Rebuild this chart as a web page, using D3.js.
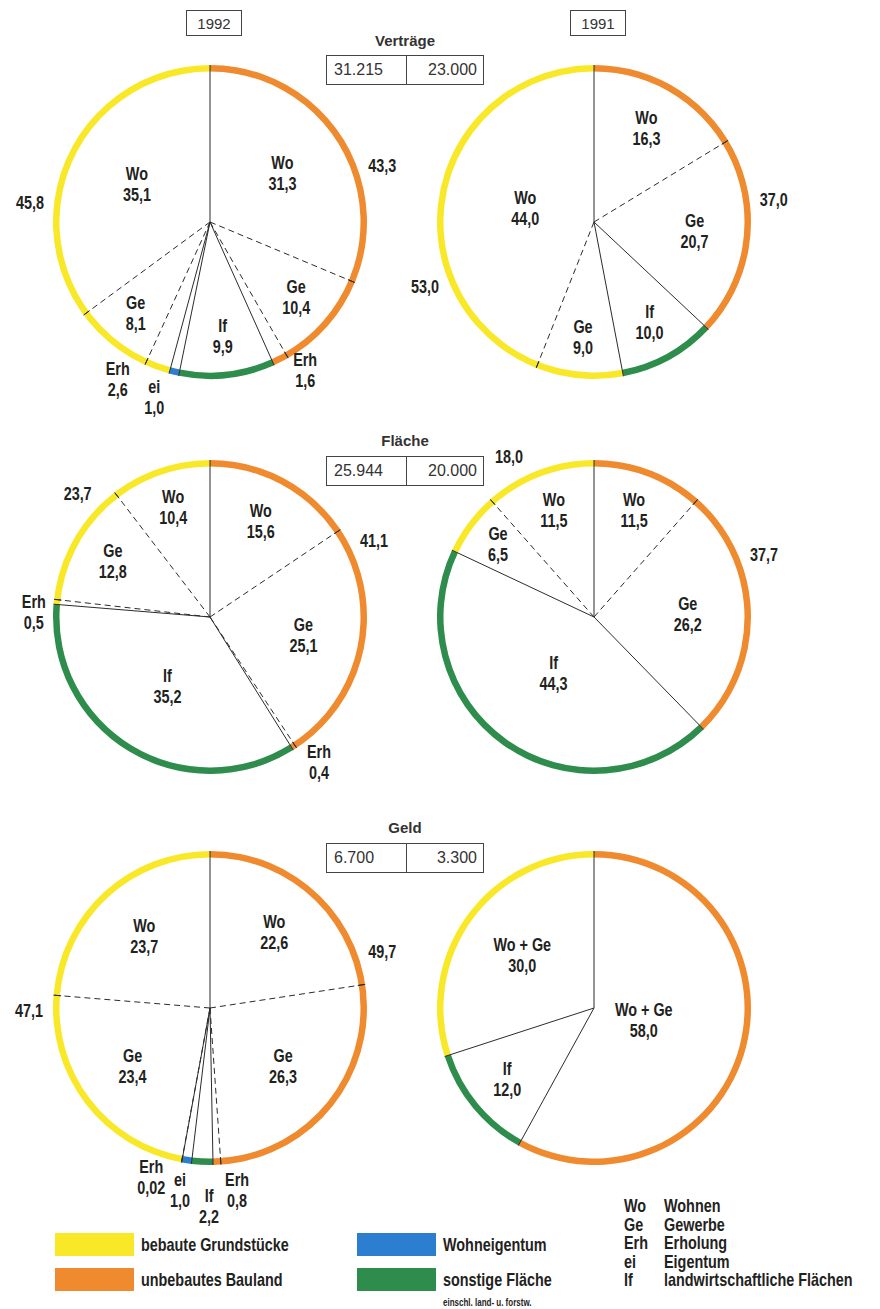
<!DOCTYPE html>
<html>
<head>
<meta charset="utf-8">
<script src="https://cdn.jsdelivr.net/npm/d3@7"></script>
<style>
  body { margin: 0; background: #fff; }
  svg { display: block; }
  .hd { font-family: "Liberation Sans", Arial, sans-serif; fill: #333; }
</style>
</head>
<body>
<svg id="chart" width="880" height="1309"></svg>
<script>
const years = ["1992", "1991"];
const groups = ["Verträge", "Fläche", "Geld"];
const groupTotals = [["31.215", "23.000"], ["25.944", "20.000"], ["6.700", "3.300"]];

const categories = ["bebaut", "unbebaut", "eigentum", "sonstig"];
const categoryNames = ["bebaute Grundstücke", "unbebautes Bauland", "Wohneigentum", "sonstige Fläche"];
const categoryColors = ["#f9e827", "#ef8a2e", "#2c7fd0", "#2e8d4c"];

const abbrCodes = ["Wo", "Ge", "Erh", "ei", "If"];
const abbrNames = ["Wohnen", "Gewerbe", "Erholung", "Eigentum", "landwirtschaftliche Flächen"];

// slices clockwise from 12 o'clock: [rim category, use, percent]
const vertraege1992 = [["unbebaut", "Wo", 31.3], ["unbebaut", "Ge", 10.4], ["unbebaut", "Erh", 1.6], ["sonstig", "If", 9.9], ["eigentum", "ei", 1.0], ["bebaut", "Erh", 2.6], ["bebaut", "Ge", 8.1], ["bebaut", "Wo", 35.1]];
const vertraege1991 = [["unbebaut", "Wo", 16.3], ["unbebaut", "Ge", 20.7], ["sonstig", "If", 10.0], ["bebaut", "Ge", 9.0], ["bebaut", "Wo", 44.0]];
const flaeche1992 = [["unbebaut", "Wo", 15.6], ["unbebaut", "Ge", 25.1], ["unbebaut", "Erh", 0.4], ["sonstig", "If", 35.2], ["bebaut", "Erh", 0.5], ["bebaut", "Ge", 12.8], ["bebaut", "Wo", 10.4]];
const flaeche1991 = [["unbebaut", "Wo", 11.5], ["unbebaut", "Ge", 26.2], ["sonstig", "If", 44.3], ["bebaut", "Ge", 6.5], ["bebaut", "Wo", 11.5]];
const geld1992 = [["unbebaut", "Wo", 22.6], ["unbebaut", "Ge", 26.3], ["unbebaut", "Erh", 0.8], ["sonstig", "If", 2.2], ["eigentum", "ei", 1.0], ["bebaut", "Erh", 0.02], ["bebaut", "Ge", 23.4], ["bebaut", "Wo", 23.7]];
const geld1991 = [["unbebaut", "Wo + Ge", 58.0], ["sonstig", "If", 12.0], ["bebaut", "Wo + Ge", 30.0]];

const pies = [[vertraege1992, vertraege1991], [flaeche1992, flaeche1991], [geld1992, geld1991]];

// layout
const R = 157, RIM = 6.5;
const colX = [210, 594];
const rowY = [222, 617, 1008];
const titleY = [41, 441, 828];
const boxTop = [55, 456, 843];
// where the rim totals sit (degrees clockwise from top)
const rimLabelAngle = [
  [{ unbebaut: 72, bebaut: 276 }, { unbebaut: 83, bebaut: 249 }],
  [{ unbebaut: 65, bebaut: 313 }, { unbebaut: 70, bebaut: 332 }],
  [{ unbebaut: 72, bebaut: 269 }, {}]
];
// hand nudges for the small labels outside the ring, "row-col-slice"
const nudge = {
  "0-0-2": [13, -12], "0-0-4": [-14, 0], "0-0-5": [-31, -12],
  "1-0-2": [11, -6], "1-0-4": [4, 14],
  "2-0-2": [19, 2], "2-0-3": [8, 18], "2-0-4": [-3, 4], "2-0-5": [-26, -8]
};

function hasFont(name) {
  const c = document.createElement("canvas").getContext("2d");
  c.font = "bold 40px monospace";
  const a = c.measureText("Wohnen Grundstücke").width;
  c.font = `bold 40px "${name}", monospace`;
  const b = c.measureText("Wohnen Grundstücke").width;
  return a !== b;
}
const narrow = hasFont("Liberation Sans Narrow");
const condFont = narrow ? '"Liberation Sans Narrow", sans-serif' : '"Liberation Sans", Arial, sans-serif';
const sx = narrow ? 1 : 0.8;

const svg = d3.select("#chart");
const color = d3.scaleOrdinal(categories, categoryColors);
const fmt = (v) => (v < 0.1 ? v.toFixed(2) : v.toFixed(1)).replace(".", ",");
const rimArc = d3.arc().innerRadius(R - RIM).outerRadius(R);
const polar = (a, r) => [r * Math.sin(a), -r * Math.cos(a)];

function condText(sel, x, y, str, size, anchor) {
  return sel.append("text")
    .attr("transform", `translate(${x},${y}) scale(${sx},1)`)
    .attr("text-anchor", anchor || "middle")
    .style("font-family", condFont)
    .style("font-weight", "bold")
    .style("font-size", size + "px")
    .attr("fill", "#1f231d")
    .text(str);
}

// year boxes
years.forEach((yr, ci) => {
  const cx = colX[ci] + 4;
  svg.append("rect")
    .attr("x", cx - 27.5).attr("y", 10.5)
    .attr("width", 55).attr("height", 25)
    .attr("fill", "none").attr("stroke", "#444").attr("stroke-width", 1);
  svg.append("text")
    .attr("class", "hd")
    .attr("x", cx).attr("y", 28.5)
    .attr("text-anchor", "middle")
    .style("font-size", "15px")
    .text(yr);
});

// group titles with totals
groups.forEach((name, ri) => {
  svg.append("text")
    .attr("class", "hd")
    .attr("x", 405).attr("y", titleY[ri] + 5)
    .attr("text-anchor", "middle")
    .style("font-size", "15px").style("font-weight", "bold")
    .text(name);
  svg.append("rect")
    .attr("x", 326.5).attr("y", boxTop[ri] + 0.5)
    .attr("width", 157).attr("height", 29)
    .attr("fill", "none").attr("stroke", "#444").attr("stroke-width", 1);
  svg.append("line")
    .attr("x1", 406.5).attr("x2", 406.5)
    .attr("y1", boxTop[ri]).attr("y2", boxTop[ri] + 30)
    .attr("stroke", "#444");
  svg.append("text")
    .attr("class", "hd")
    .attr("x", 334).attr("y", boxTop[ri] + 20)
    .style("font-size", "16px")
    .text(groupTotals[ri][0]);
  svg.append("text")
    .attr("class", "hd")
    .attr("x", 477).attr("y", boxTop[ri] + 20)
    .attr("text-anchor", "end")
    .style("font-size", "16px")
    .text(groupTotals[ri][1]);
});

// the six rings
pies.forEach((row, ri) => row.forEach((slices, ci) => {
  const g = svg.append("g").attr("transform", `translate(${colX[ci]},${rowY[ri]})`);
  const arcs = d3.pie().sort(null).value((d) => d[2])(slices);
  const total = d3.sum(slices, (d) => d[2]);

  // merge neighbouring slices of one category into one rim run
  const runs = [];
  arcs.forEach((a) => {
    const last = runs[runs.length - 1];
    if (last && last.cat === a.data[0]) {
      last.endAngle = a.endAngle;
      last.sum += a.data[2];
      last.n++;
    } else {
      runs.push({ cat: a.data[0], startAngle: a.startAngle, endAngle: a.endAngle, sum: a.data[2], n: 1 });
    }
  });

  g.selectAll("path.rim")
    .data(runs)
    .join("path")
    .attr("class", "rim")
    .attr("d", rimArc)
    .attr("fill", (d) => color(d.cat));

  // boundaries: solid between rim categories, dashed inside one
  arcs.forEach((a, i) => {
    const prev = arcs[(i - 1 + arcs.length) % arcs.length];
    const solid = prev.data[0] !== a.data[0];
    const [x, y] = polar(a.startAngle, R);
    g.append("line")
      .attr("x1", 0).attr("y1", 0).attr("x2", x).attr("y2", y)
      .attr("stroke", "#2b2b2b").attr("stroke-width", 1)
      .attr("stroke-dasharray", solid ? null : "6,4");
    if (!solid) {
      const [tx, ty] = polar(a.startAngle, R - RIM - 1);
      g.append("line")
        .attr("x1", tx).attr("y1", ty).attr("x2", x).attr("y2", y)
        .attr("stroke", "#2b2b2b").attr("stroke-width", 1);
    }
  });

  // slice labels
  arcs.forEach((a, i) => {
    const f = a.data[2] / total;
    const mid = (a.startAngle + a.endAngle) / 2;
    let p;
    if (f >= 0.03) {
      p = polar(mid, R * (0.82 - 0.85 * f));
    } else {
      p = polar(mid, R + 24);
      const n = nudge[`${ri}-${ci}-${i}`] || [0, 0];
      p = [p[0] + n[0], p[1] + n[1]];
    }
    condText(g, p[0], p[1] - 5, a.data[1], 18);
    condText(g, p[0], p[1] + 16, fmt(a.data[2]), 18);
  });

  // rim totals for categories made of several slices
  runs.filter((d) => d.n > 1).forEach((d) => {
    const deg = rimLabelAngle[ri][ci][d.cat];
    const ang = deg !== undefined ? deg * Math.PI / 180 : (d.startAngle + d.endAngle) / 2;
    const p = polar(ang, 181);
    condText(g, p[0], p[1] + 6, fmt(d.sum), 18);
  });
}));

// colour legend
const swatchX = [55, 357];
const swatchY = [1233, 1268];
categories.forEach((c, i) => {
  const x = swatchX[Math.floor(i / 2)];
  const y = swatchY[i % 2];
  svg.append("rect")
    .attr("x", x).attr("y", y)
    .attr("width", 79).attr("height", 23)
    .attr("fill", color(c));
  condText(svg, x + 86, y + 18, categoryNames[i], 18, "start");
});
condText(svg, 443, 1306, "einschl. land- u. forstw.", 10, "start");

// abbreviation legend
abbrCodes.forEach((code, i) => {
  const y = 1212 + i * 18.6;
  condText(svg, 624, y, code, 18, "start");
  condText(svg, 664, y, abbrNames[i], 18, "start");
});
</script>
</body>
</html>
